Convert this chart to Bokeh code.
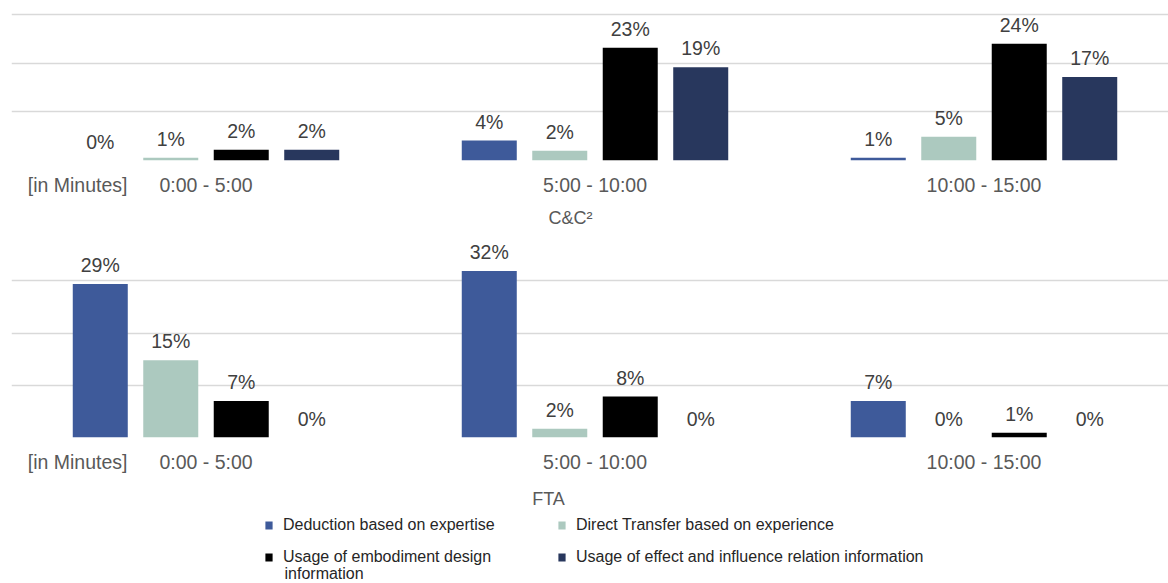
from bokeh.plotting import figure
from bokeh.models import Range1d, FixedTicker, Legend, LegendItem, ColumnDataSource, Label, Title
from bokeh.layouts import column
from bokeh.core.properties import value
from bokeh.embed import file_html
from bokeh.resources import INLINE

# ---- data ----
groups = ["0:00 - 5:00", "5:00 - 10:00", "10:00 - 15:00"]
unit_label = "[in Minutes]"
panel_titles = ["C&C²", "FTA"]
series = [
    "Deduction based on expertise",
    "Direct Transfer based on experience",
    "Usage of embodiment design",
    "Usage of effect and influence relation information",
]
series_wrap = ["", "", "information", ""]
colors = ["#3E5A9A", "#ACC9BF", "#000000", "#28375D"]

cc2_deduction = [0.0, 4.1, 0.55]
cc2_transfer = [0.55, 2.0, 4.9]
cc2_embodiment = [2.2, 23.2, 24.0]
cc2_effect = [2.2, 19.2, 17.2]

fta_deduction = [29.4, 31.9, 7.0]
fta_transfer = [14.8, 1.7, 0.0]
fta_embodiment = [7.0, 7.85, 0.9]
fta_effect = [0.0, 0.0, 0.0]

grid_ticks = [0, 10, 20, 30]

FONT = "Liberation Sans"
W = 1168
STEP = 0.1812
BAR_W = 0.1414
offsets = [-1.5 * STEP, -0.5 * STEP, 0.5 * STEP, 1.5 * STEP]
X_END = (1168 - 11) / 389


def panel(values_list, height, px_per_pct, frame_h, border_bottom):
    y_end = frame_h / px_per_pct
    p = figure(width=W, height=height, x_range=Range1d(0, X_END), y_range=Range1d(0, y_end),
               output_backend="svg", toolbar_location=None, y_axis_location=None,
               min_border_left=11, min_border_right=0, min_border_top=0,
               min_border_bottom=border_bottom)
    p.outline_line_color = None
    p.xgrid.visible = False
    p.ygrid.ticker = FixedTicker(ticks=grid_ticks)
    p.ygrid.grid_line_color = "#D9D9D9"
    p.ygrid.grid_line_width = 1.3
    centers = [i + 0.5 for i in range(len(groups))]
    for k, vals in enumerate(values_list):
        xs = [c + offsets[k] for c in centers]
        src = ColumnDataSource(dict(x=xs, top=vals, label=[f"{round(v)}%" for v in vals]))
        p.vbar(x="x", top="top", bottom=0, width=BAR_W, source=src,
               fill_color=colors[k], line_color=None)
        p.text(x="x", y="top", text="label", source=src, text_align="center",
               text_baseline="alphabetic", y_offset=-19, text_font=value(FONT),
               text_font_size="19.5px", text_color="#404040")
    unit_pos = 0.17
    ax = p.xaxis[0]
    ax.ticker = FixedTicker(ticks=[unit_pos] + centers)
    overrides = {unit_pos: unit_label}
    for c, g in zip(centers, groups):
        overrides[c] = g
    ax.major_label_overrides = overrides
    ax.axis_line_color = None
    ax.major_tick_line_color = None
    ax.minor_tick_line_color = None
    ax.major_tick_out = 0
    ax.major_tick_in = 0
    ax.major_label_standoff = 13
    ax.major_label_text_font = FONT
    ax.major_label_text_font_size = "19.5px"
    ax.major_label_text_color = "#595959"
    return p


p1 = panel([cc2_deduction, cc2_transfer, cc2_embodiment, cc2_effect], 242, 4.86, 160, 82)
p1.add_layout(Title(text=panel_titles[0], align="left", offset=537, standoff=15,
                    text_font=FONT, text_font_size="18px", text_font_style="normal",
                    text_color="#595959"), "below")
p2 = panel([fta_deduction, fta_transfer, fta_embodiment, fta_effect], 235, 5.22, 195, 40)

p3 = figure(width=W, height=106, output_backend="svg", toolbar_location=None,
            x_axis_location=None, y_axis_location=None,
            min_border_left=0, min_border_right=0, min_border_top=0, min_border_bottom=0,
            x_range=Range1d(0, 1), y_range=Range1d(0, 1))
p3.outline_line_color = None
p3.xgrid.visible = False
p3.ygrid.visible = False
p3.add_layout(Label(x=537, y=84.5, x_units="screen", y_units="screen", text=panel_titles[1],
                    text_align="center", text_baseline="middle", text_font=FONT,
                    text_font_size="18px", text_color="#595959"))
items = []
for k, name in enumerate(series):
    r = p3.vbar(x=[float("nan")], top=[float("nan")], width=0.1,
                fill_color=colors[k], line_color=None)
    items.append(LegendItem(label=name, renderers=[r]))
# column-major fill: reorder so rows read left-to-right
items = [items[0], items[2], items[1], items[3]]
leg = Legend(items=items, ncols=2, location=(253, 16),
             glyph_width=9, glyph_height=10, label_standoff=10, label_width=262,
             label_height=20, spacing=12, padding=0, margin=0,
             border_line_color=None, background_fill_alpha=0,
             label_text_font=FONT, label_text_font_size="16px", label_text_color="#262626")
p3.add_layout(leg, "center")
p3.add_layout(Label(x=273, y=10, x_units="screen", y_units="screen", text=series_wrap[2],
                    text_baseline="middle", text_font=FONT, text_font_size="16px",
                    text_color="#262626"))

layout = column(p1, p2, p3, spacing=0)
open("out.html", "w").write(file_html(layout, INLINE))
